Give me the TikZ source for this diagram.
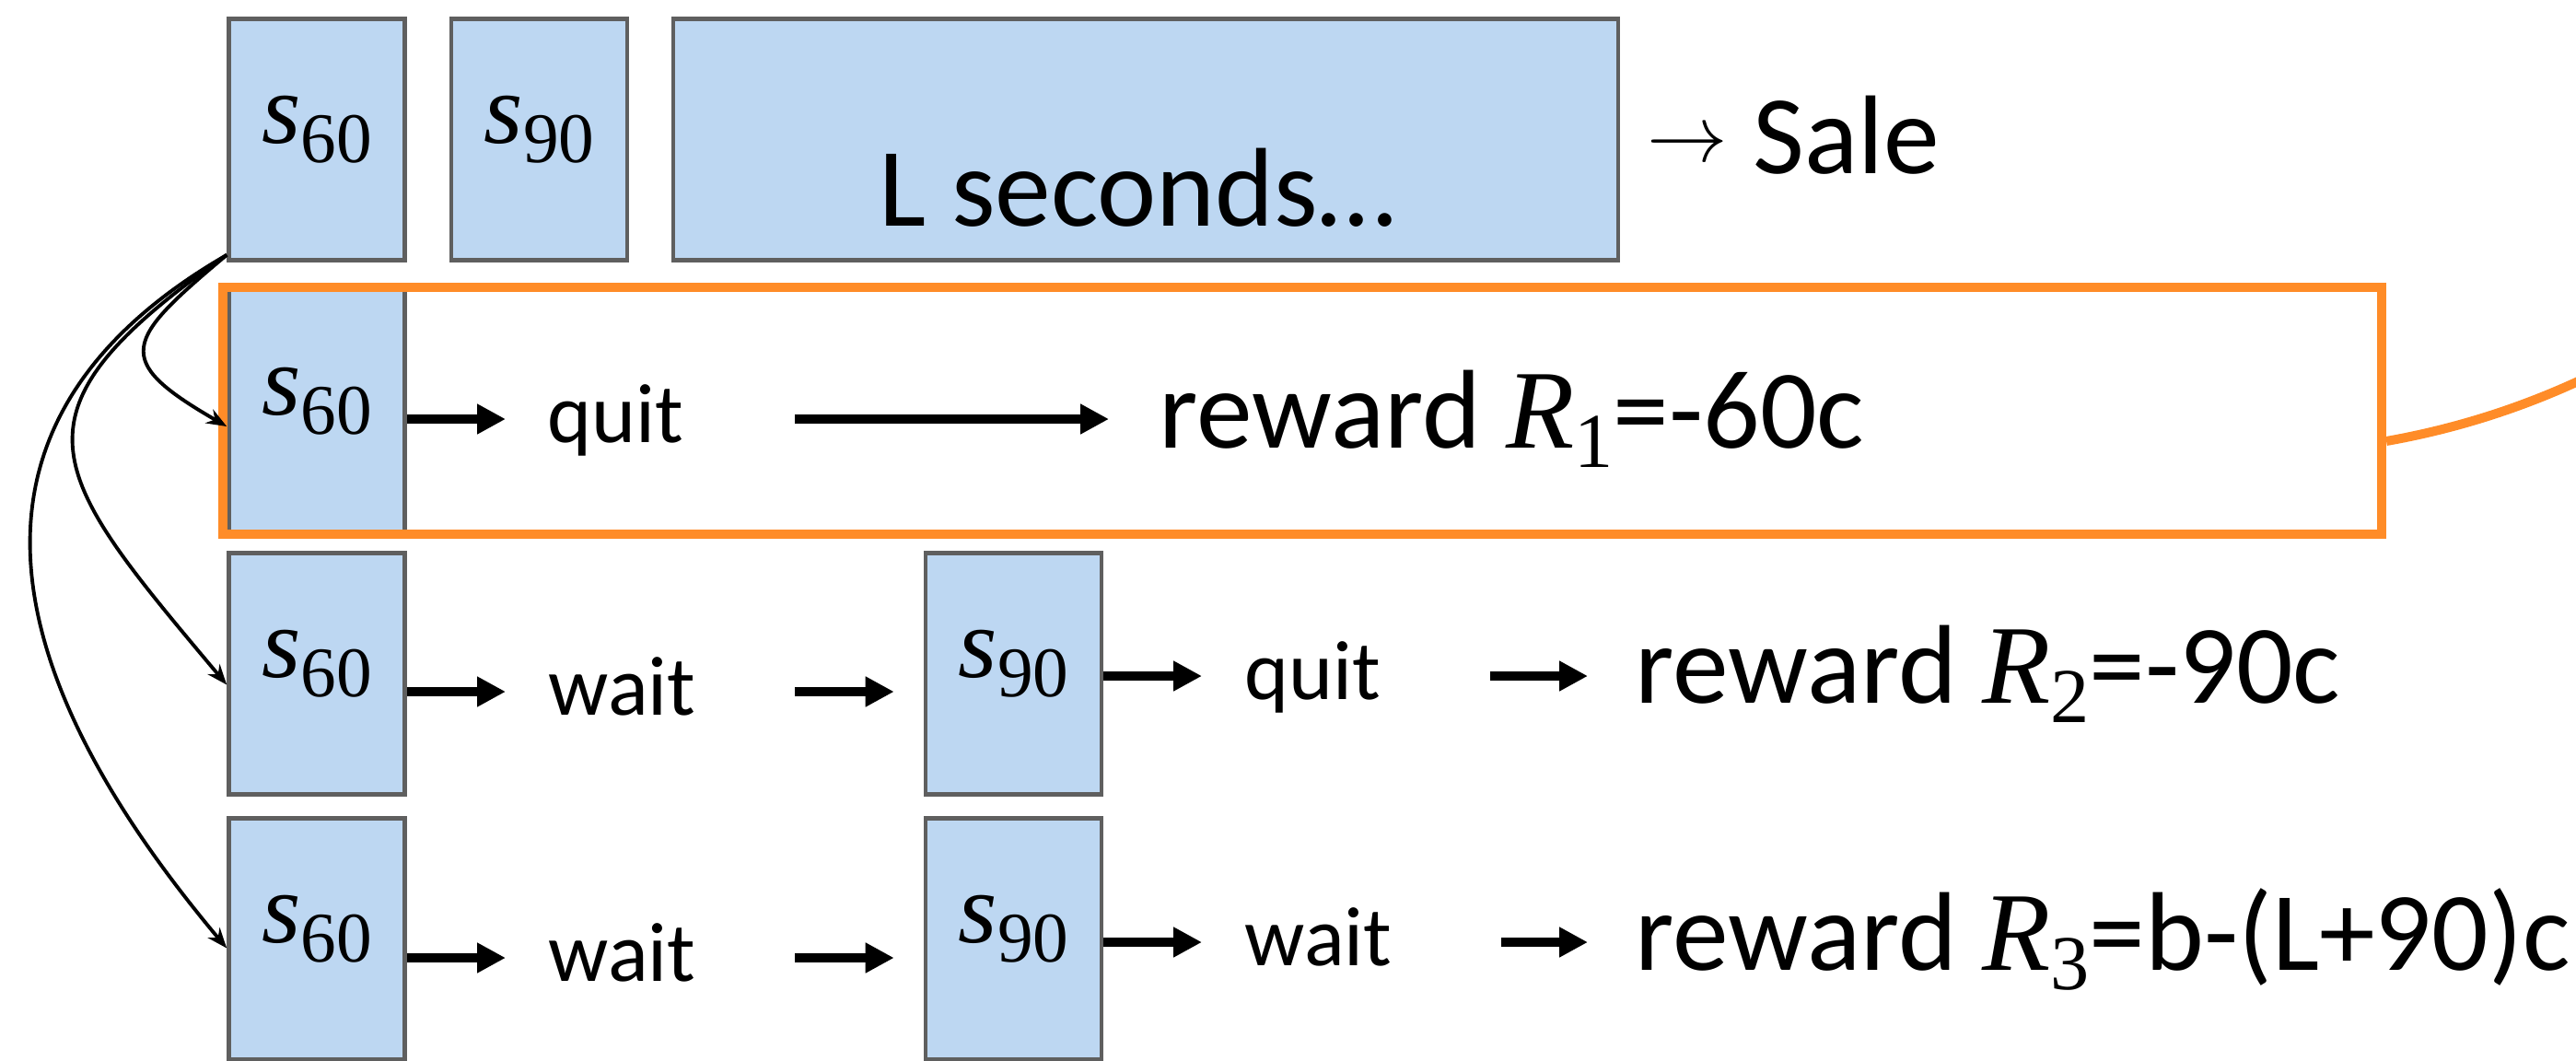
\documentclass[tikz,border=0pt]{standalone}
\usepackage[no-math]{fontspec}
\setmainfont{Carlito}
\newfontfamily\cambfont{Liberation Serif}
\usetikzlibrary{arrows.meta}
\definecolor{boxblue}{RGB}{189,215,242}
\definecolor{boxgray}{RGB}{95,95,95}
\definecolor{hlorange}{RGB}{255,140,40}
\newcommand\mv[3][22]{{\cambfont\itshape #2}\raisebox{-0.21cm}{\cambfont\fontsize{#1}{#1}\selectfont #3}}

\begin{document}
\begin{tikzpicture}[
  stbox/.style={draw=boxgray, line width=1.3pt, fill=boxblue, minimum width=1.91cm, minimum height=2.62cm,
    inner sep=0pt, text height=0.5cm, text depth=0.42cm, font=\fontsize{31}{36}\selectfont},
  act/.style={inner sep=0pt, text height=0.5cm, text depth=0pt, font=\fontsize{26}{30}\selectfont},
  rewardtxt/.style={inner sep=0pt, font=\fontsize{34.6}{40}\selectfont},
  blk/.style={line width=2.8pt, -{Triangle[length=0.31cm,width=0.31cm]}},
  branch/.style={line width=1.1pt, -{Stealth[length=0.22cm,width=0.17cm]}},
  hl/.style={draw=hlorange, line width=0.1cm}
]
\useasboundingbox (0,0) rectangle (27.97,-11.51);
\clip (0,0) rectangle (27.97,-11.51);

\node[stbox] (t60) at (3.44,-1.515) {\mv{s}{60}};
\node[stbox] (t90) at (5.855,-1.515) {\mv{s}{90}};
\node[stbox, minimum width=10.26cm] (lsec) at (12.44,-1.515) {};
\node[rewardtxt, anchor=base] (lsect) at (12.35,-2.45) {L seconds…};
\node[rewardtxt, anchor=base west] (sale) at (17.88,-1.88) {\raisebox{0.13cm}{\fontsize{25}{25}\selectfont$\rightarrow$} Sale};

\node[stbox] (r1s) at (3.44,-4.46) {\mv{s}{60}};
\node[hl, minimum width=23.44cm, minimum height=2.675cm] (hlbox) at (14.14,-4.46) {};
\node[act, anchor=base west] (q1) at (5.94,-4.80) {quit};
\node[rewardtxt, anchor=base west] (rw1) at (12.58,-4.86) {reward \mv[24]{R}{1}=-60c};
\draw[blk, shorten >=0.45cm] (r1s.east |- q1.west) -- (q1.west);
\draw[blk, shorten <=1.2cm, shorten >=0.54cm] (q1.east) -- (q1.east -| rw1.west);

\node[stbox] (r2s) at (3.44,-7.315) {\mv{s}{60}};
\node[act, anchor=base west] (w1) at (5.95,-7.76) {wait};
\node[stbox] (r2b) at (11.005,-7.315) {\mv{s}{90}};
\node[act, anchor=base west] (q2) at (13.51,-7.59) {quit};
\node[rewardtxt, anchor=base west] (rw2) at (17.75,-7.63) {reward \mv[24]{R}{2}=-90c};
\draw[blk, shorten >=0.46cm] (r2s.east |- w1.west) -- (w1.west);
\draw[blk, shorten <=1.07cm, shorten >=0.32cm] (w1.east) -- (w1.east -| r2b.west);
\draw[blk, shorten >=0.46cm] (r2b.east |- q2.west) -- (q2.west);
\draw[blk, shorten <=1.18cm, shorten >=0.51cm] (q2.east) -- (q2.east -| rw2.west);

\node[stbox] (r3s) at (3.44,-10.195) {\mv{s}{60}};
\node[act, anchor=base west] (w2) at (5.95,-10.65) {wait};
\node[stbox] (r3b) at (11.005,-10.195) {\mv{s}{90}};
\node[act, anchor=base west] (w3) at (13.51,-10.48) {wait};
\node[rewardtxt, anchor=base west] (rw3) at (17.75,-10.53) {reward \mv[24]{R}{3}=b-(L+90)c};
\draw[blk, shorten >=0.46cm] (r3s.east |- w2.west) -- (w2.west);
\draw[blk, shorten <=1.07cm, shorten >=0.32cm] (w2.east) -- (w2.east -| r3b.west);
\draw[blk, shorten >=0.46cm] (r3b.east |- w3.west) -- (w3.west);
\draw[blk, shorten <=1.18cm, shorten >=0.51cm] (w3.east) -- (w3.east -| rw3.west);

\draw[branch] ([yshift=0.8mm]t60.south west) .. controls +(220:1.45) and +(150:1.45) .. ([yshift=-1.7mm]r1s.west);
\draw[branch] ([yshift=0.8mm]t60.south west) .. controls +(215:3.03) and +(130:3.03) .. ([yshift=-1.2mm]r2s.west);
\draw[branch] ([yshift=0.8mm]t60.south west) .. controls +(210:3.74) and +(130:3.74) .. ([yshift=-1mm]r3s.west);

\coordinate (hlout) at (30.56,-2.34);
\draw[hl] ([yshift=-3.3mm]hlbox.east) .. controls +(10:1.81) and +(225:1.81) .. (hlout);
\end{tikzpicture}
\end{document}
